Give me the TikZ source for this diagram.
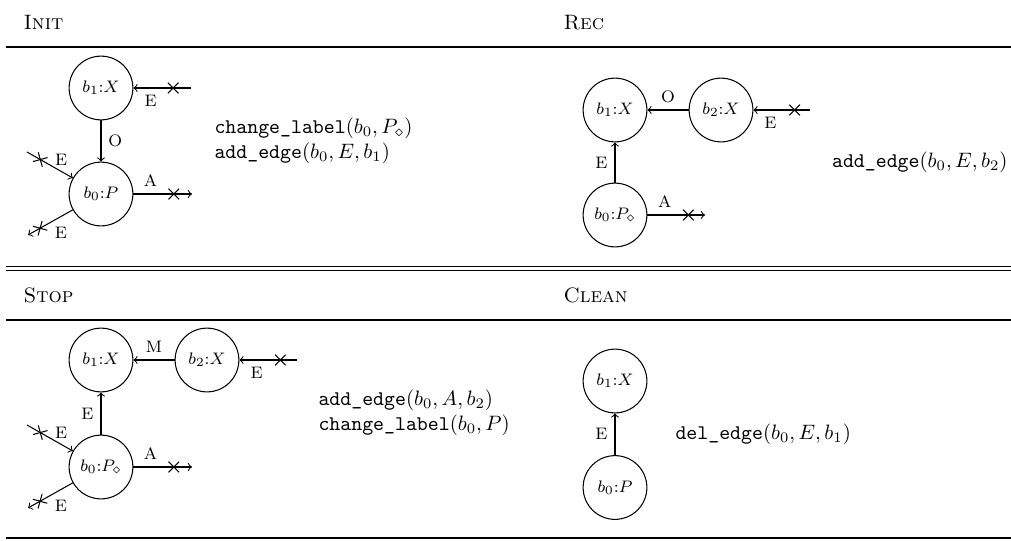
\documentclass[tikz,border=0pt]{standalone}
\usetikzlibrary{shapes.misc}
\begin{document}
\begin{tikzpicture}[x=0.48pt,y=-0.48pt,line width=0.5pt,
  bnode/.style={circle,draw,minimum size=30.6pt,inner sep=0pt,font=\footnotesize},
  lab/.style={font=\footnotesize},
  xmark/.style={cross out,draw,minimum size=4.6pt,inner sep=0pt,sloped},
  xlab/.style={font=\footnotesize,anchor=west,xshift=3.5pt},
  rulel/.style={line width=0.6pt},
  hd/.style={anchor=base west,inner sep=0pt},
  cmd/.style={align=left,inner sep=0pt}]
\useasboundingbox (0,0) rectangle (1011,540);

% rules
\coordinate (r1a) at (6,47);     \coordinate (r1b) at (1011,47);
\coordinate (r2a) at (6,266.5);  \coordinate (r2b) at (1011,266.5);
\coordinate (r3a) at (6,270.8);  \coordinate (r3b) at (1011,270.8);
\coordinate (r4a) at (6,320);    \coordinate (r4b) at (1011,320);
\coordinate (r5a) at (6,538);    \coordinate (r5b) at (1011,538);
\draw[rulel] (r1a) -- (r1b);
\draw[rulel] (r2a) -- (r2b);
\draw[rulel] (r3a) -- (r3b);
\draw[rulel] (r4a) -- (r4b);
\draw[rulel] (r5a) -- (r5b);

% headers
\node[hd] (hinit) at (23,29) {\textsc{Init}};
\node[hd] (hrec) at (563,29) {\textsc{Rec}};
\node[hd] (hstop) at (23,302) {\textsc{Stop}};
\node[hd] (hclean) at (563,302) {\textsc{Clean}};

% ---------- Init ----------
\node[bnode] (ib1) at (101,88) {$b_1{:}X$};
\node[bnode] (ib0) at (101,194) {$b_0{:}P$};
\coordinate (ifb1) at (191,88);
\coordinate (ifa) at (192,194);
\coordinate (ifin) at (27,152);
\coordinate (ifout) at (28,235);
\draw[->] (ib1) -- node[lab,right] {O} (ib0);
\draw[->] (ifb1) -- node[xmark,pos=0.31] {} node[lab,below,pos=0.7] {E} (ib1);
\draw[->] (ib0) -- node[lab,above,pos=0.29] {A} node[xmark,pos=0.69] {} (ifa);
\draw[->] (ifin) -- node[xmark,pos=0.29] {} node[xlab,pos=0.29] {E} (ib0);
\draw[->] (ib0) -- node[xmark,pos=0.73] {} node[xlab,pos=0.73,yshift=-2pt] {E} (ifout);
\node[cmd,anchor=west] (tinit) at (214,141) {\texttt{change\_label}$(b_0,P_\diamond)$\\\texttt{add\_edge}$(b_0,E,b_1)$};

% ---------- Rec ----------
\node[bnode] (rb1) at (615,110) {$b_1{:}X$};
\node[bnode] (rb2) at (721,110) {$b_2{:}X$};
\node[bnode] (rb0) at (615,215) {$b_0{:}P_\diamond$};
\coordinate (rfb2) at (810,110);
\coordinate (rfa) at (705,215);
\draw[->] (rb2) -- node[lab,above] {O} (rb1);
\draw[->] (rfb2) -- node[xmark,pos=0.27] {} node[lab,below,pos=0.7] {E} (rb2);
\draw[->] (rb0) -- node[lab,left] {E} (rb1);
\draw[->] (rb0) -- node[lab,above,pos=0.3] {A} node[xmark,pos=0.71] {} (rfa);
\node[cmd,anchor=east] (trec) at (1008,162) {\texttt{add\_edge}$(b_0,E,b_2)$};

% ---------- Stop ----------
\node[bnode] (sb1) at (101,360) {$b_1{:}X$};
\node[bnode] (sb2) at (207,360) {$b_2{:}X$};
\node[bnode] (sb0) at (101,467) {$b_0{:}P_\diamond$};
\coordinate (sfb2) at (297,360);
\coordinate (sfa) at (192,467);
\coordinate (sfin) at (27,425);
\coordinate (sfout) at (28,508);
\draw[->] (sb2) -- node[lab,above] {M} (sb1);
\draw[->] (sfb2) -- node[xmark,pos=0.29] {} node[lab,below,pos=0.7] {E} (sb2);
\draw[->] (sb0) -- node[lab,left] {E} (sb1);
\draw[->] (sb0) -- node[lab,above,pos=0.29] {A} node[xmark,pos=0.69] {} (sfa);
\draw[->] (sfin) -- node[xmark,pos=0.29] {} node[xlab,pos=0.29] {E} (sb0);
\draw[->] (sb0) -- node[xmark,pos=0.73] {} node[xlab,pos=0.73,yshift=-2pt] {E} (sfout);
\node[cmd,anchor=west] (tstop) at (318,413) {\texttt{add\_edge}$(b_0,A,b_2)$\\\texttt{change\_label}$(b_0,P)$};

% ---------- Clean ----------
\node[bnode] (cb1) at (615,381) {$b_1{:}X$};
\node[bnode] (cb0) at (615,487.5) {$b_0{:}P$};
\draw[->] (cb0) -- node[lab,left] {E} (cb1);
\node[cmd,anchor=west] (tclean) at (675,434) {\texttt{del\_edge}$(b_0,E,b_1)$};
\end{tikzpicture}
\end{document}
